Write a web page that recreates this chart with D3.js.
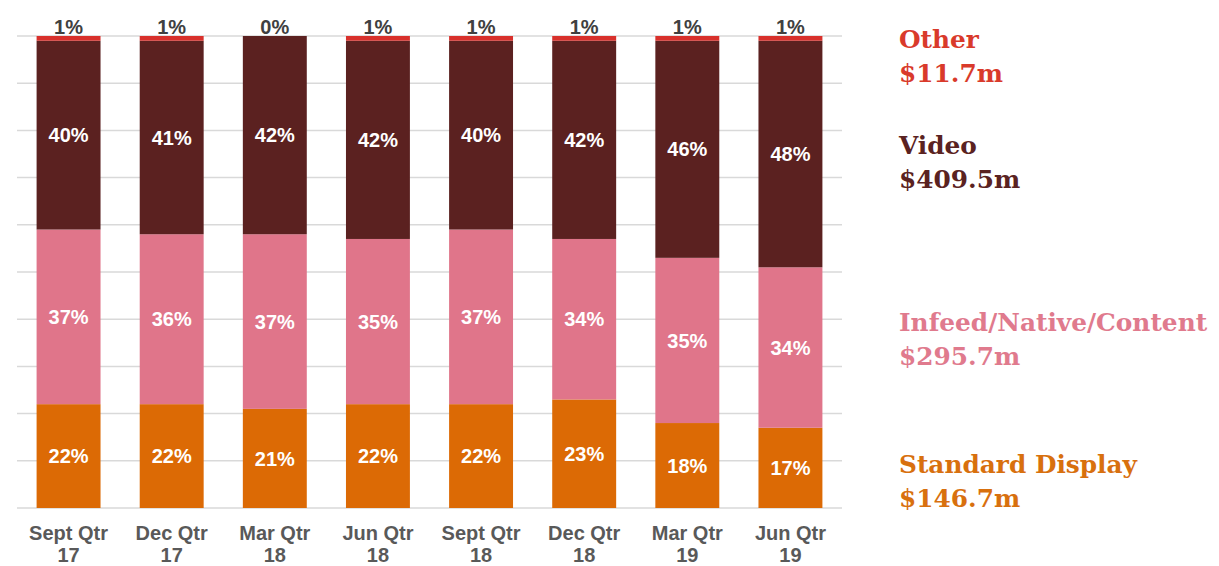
<!DOCTYPE html>
<html>
<head>
<meta charset="utf-8">
<script src="https://cdn.jsdelivr.net/npm/d3@7"></script>
<style>
  html, body { margin: 0; padding: 0; background: #fff; }
  svg { display: block; }
</style>
</head>
<body>
<svg id="chart" width="1219" height="566"></svg>
<script>
// Quarterly revenue mix by ad format (share of total, %)
const quarters = ["Sept Qtr|17", "Dec Qtr|17", "Mar Qtr|18", "Jun Qtr|18",
                  "Sept Qtr|18", "Dec Qtr|18", "Mar Qtr|19", "Jun Qtr|19"];
const standardDisplay = [22, 22, 21, 22, 22, 23, 18, 17];
const infeedNative    = [37, 36, 37, 35, 37, 34, 35, 34];
const video           = [40, 41, 42, 42, 40, 42, 46, 48];
const other           = [1, 1, 0, 1, 1, 1, 1, 1];
const yTicks = [0, 10, 20, 30, 40, 50, 60, 70, 80, 90, 100];

const seriesKeys = ["display", "infeed", "video", "other"];
const colors = {
  display: "#dc6a05",
  infeed:  "#e0758a",
  video:   "#5b2120",
  other:   "#d8302b"
};

const legendItems = [
  { key: "other",   name: "Other",                 amount: "$11.7m",  y: 48 },
  { key: "video",   name: "Video",                 amount: "$409.5m", y: 154 },
  { key: "infeed",  name: "Infeed/Native/Content", amount: "$295.7m", y: 331 },
  { key: "display", name: "Standard Display",      amount: "$146.7m", y: 473 }
];
const legendColors = {
  other: "#d93a2b", video: "#5a2221", infeed: "#e07a8d", display: "#d8700e"
};

const rows = quarters.map((q, i) => ({
  q, display: standardDisplay[i], infeed: infeedNative[i], video: video[i], other: other[i]
}));

const svg = d3.select("#chart");
const x = d3.scaleBand().domain(quarters).range([17, 842])
  .paddingInner(0.38).paddingOuter(0.19);
const y = d3.scaleLinear().domain([0, 100]).range([508, 36]);

// gridlines
svg.append("g").selectAll("line").data(yTicks).join("line")
  .attr("x1", 17).attr("x2", 842)
  .attr("y1", d => y(d)).attr("y2", d => y(d))
  .attr("stroke", "#d9d9d9").attr("stroke-width", 1.5);

const stacked = d3.stack().keys(seriesKeys)(rows);

const layers = svg.append("g").selectAll("g").data(stacked).join("g")
  .attr("fill", d => colors[d.key]);

layers.selectAll("rect").data(d => d).join("rect")
  .attr("x", d => x(d.data.q))
  .attr("width", x.bandwidth())
  .attr("y", d => y(d[1]))
  .attr("height", d => y(d[0]) - y(d[1]));

// in-bar value labels
const labelFont = "'Liberation Sans', Arial, sans-serif";
stacked.filter(s => s.key !== "other").forEach(s => {
  svg.append("g").selectAll("text").data(s).join("text")
    .attr("x", d => x(d.data.q) + x.bandwidth() / 2)
    .attr("y", d => (y(d[0]) + y(d[1])) / 2)
    .attr("dy", "0.36em")
    .attr("text-anchor", "middle")
    .attr("font-family", labelFont)
    .attr("font-weight", "bold")
    .attr("font-size", 20)
    .attr("fill", "#fff")
    .text(d => d.data[s.key] + "%");
});

// "Other" labels above the bars
const otherLayer = stacked.find(s => s.key === "other");
svg.append("g").selectAll("text").data(otherLayer).join("text")
  .attr("x", d => x(d.data.q) + x.bandwidth() / 2)
  .attr("y", d => y(d[1]) - 2)
  .attr("text-anchor", "middle")
  .attr("font-family", labelFont)
  .attr("font-weight", "bold")
  .attr("font-size", 20)
  .attr("fill", "#404040")
  .text(d => d.data.other + "%");

// category axis labels (two lines)
const xl = svg.append("g").selectAll("text").data(quarters).join("text")
  .attr("x", d => x(d) + x.bandwidth() / 2)
  .attr("y", 540)
  .attr("text-anchor", "middle")
  .attr("font-family", labelFont)
  .attr("font-weight", "bold")
  .attr("font-size", 20)
  .attr("fill", "#595959");
xl.append("tspan").attr("x", d => x(d) + x.bandwidth() / 2).text(d => d.split("|")[0]);
xl.append("tspan").attr("x", d => x(d) + x.bandwidth() / 2).attr("dy", 22).text(d => d.split("|")[1]);

// legend
const lg = svg.append("g").selectAll("text").data(legendItems).join("text")
  .attr("x", 899)
  .attr("y", d => d.y)
  .attr("font-family", "Georgia, 'DejaVu Serif', serif")
  .attr("font-weight", "bold")
  .attr("font-size", 24.8)
  .attr("fill", d => legendColors[d.key]);
lg.append("tspan").attr("x", 899).text(d => d.name);
lg.append("tspan").attr("x", 899).attr("dy", 34).text(d => d.amount);
</script>
</body>
</html>
